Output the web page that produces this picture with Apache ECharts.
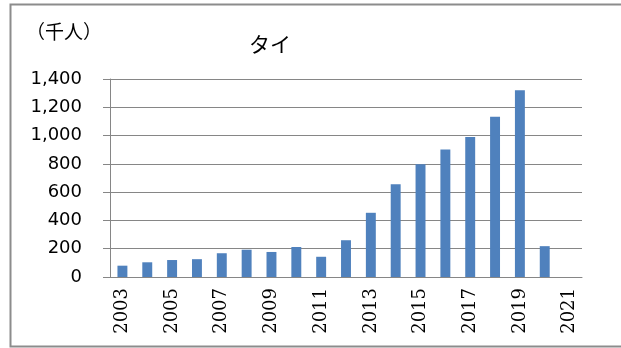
<!DOCTYPE html>
<html>
<head>
<meta charset="utf-8">
<script src="https://cdn.jsdelivr.net/npm/echarts@6/dist/echarts.min.js"></script>
<style>html,body{margin:0;padding:0;background:#fff;}#c{width:621px;height:348px;}</style>
</head>
<body>
<div id="c"></div>
<script>
const years = ['2003','2004','2005','2006','2007','2008','2009','2010','2011','2012','2013','2014','2015','2016','2017','2018','2019','2020','2021'];
const visitors = [80, 104, 120, 126, 168, 193, 177, 212, 143, 260, 454, 656, 797, 902, 990, 1133, 1320, 218, null];
const yTicks = [0, 200, 400, 600, 800, 1000, 1200, 1400];
const titleText = 'タイ';
const unitText = '（千人）';

const chart = echarts.init(document.getElementById('c'), null, {renderer: 'canvas'});
chart.setOption({
  animation: false,
  backgroundColor: '#ffffff',
  graphic: [
    {type: 'rect', shape: {x: 10.5, y: 4.5, width: 640, height: 342}, style: {fill: 'none', stroke: '#8c8c8c', lineWidth: 2}, silent: true},
    {type: 'text', left: 26, top: 22, style: {text: unitText, font: '19px "Noto Sans CJK JP"', fill: '#000'}},
    {type: 'text', left: 249, top: 34, style: {text: titleText, font: '21px "Noto Sans CJK JP"', fill: '#000'}}
  ],
  grid: {left: 110, right: 39, top: 79, bottom: 71, containLabel: false},
  xAxis: {
    type: 'category',
    data: years,
    axisLine: {show: true, lineStyle: {color: '#868686', width: 1}},
    axisTick: {show: false},
    axisLabel: {interval: 1, rotate: 90, margin: 11, color: '#000', fontFamily: 'DejaVu Serif', fontSize: 18}
  },
  yAxis: {
    type: 'value',
    min: yTicks[0],
    max: yTicks[yTicks.length - 1],
    interval: 200,
    axisLine: {show: true, lineStyle: {color: '#868686', width: 1}},
    axisTick: {show: true, length: 7, lineStyle: {color: '#868686'}},
    splitLine: {show: true, lineStyle: {color: '#868686', width: 1}},
    axisLabel: {
      margin: 28, color: '#000', fontFamily: 'DejaVu Sans', fontSize: 18,
      formatter: v => v.toLocaleString('en-US')
    }
  },
  series: [{
    type: 'bar',
    data: visitors,
    barWidth: '40%',
    itemStyle: {color: '#4f81bd'}
  }]
});
</script>
</body>
</html>
